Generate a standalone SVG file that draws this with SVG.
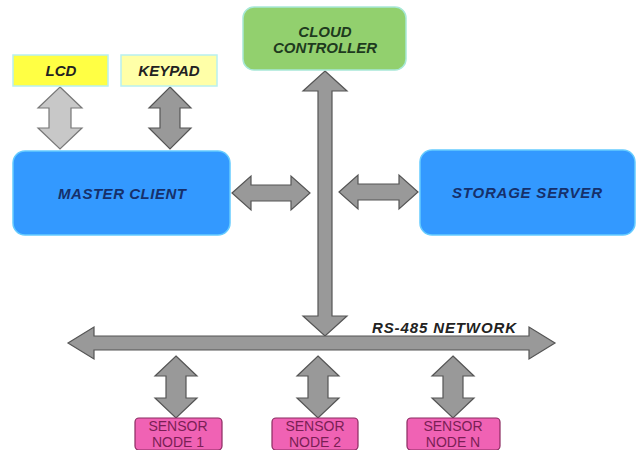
<svg xmlns="http://www.w3.org/2000/svg" width="637" height="450" viewBox="0 0 637 450">
<style>
.lbl{font-family:"Liberation Sans",Arial,sans-serif;font-weight:bold;font-style:italic;font-size:15px;text-anchor:middle}
.sn{font-family:"Liberation Sans",Arial,sans-serif;font-size:14px;fill:#7a1f55;text-anchor:middle}
.arr{fill:#999999;stroke:#555555;stroke-width:1.2;stroke-linejoin:miter}
.arrl{fill:#c8c8c8;stroke:#777777;stroke-width:1.2}
.sensor{fill:#f062b4;stroke:#8a2a60;stroke-width:1.2}
.blue{fill:#3399ff;stroke:#66ccff;stroke-width:1.5}
</style>
<rect width="637" height="450" fill="#ffffff"/>
<g id="connectors">
<path class="arrl" d="M60,87 L82,108 L71,108 L71,128 L82,128 L60,149 L38,128 L49,128 L49,108 L38,108 Z"/>
<path class="arr" d="M170,87 L191,108 L180,108 L180,128 L191,128 L170,149 L149,128 L160,128 L160,108 L149,108 Z"/>
<path class="arr" d="M325,71 L347,91 L332,91 L332,316 L347,316 L325,336 L303,316 L318,316 L318,91 L303,91 Z"/>
<path class="arr" d="M232,193 L251,176 L251,185 L291,185 L291,176 L310,193 L291,210 L291,201 L251,201 L251,210 Z"/>
<path class="arr" d="M339,192 L358,175 L358,184 L399,184 L399,175 L418,192 L399,209 L399,200 L358,200 L358,209 Z"/>
<path class="arr" d="M68,343 L94,327 L94,336 L529,336 L529,327 L555,343 L529,359 L529,350 L94,350 L94,359 Z"/>
<path class="arr" d="M176,356 L197,376 L186,376 L186,398 L197,398 L176,418 L155,398 L166,398 L166,376 L155,376 Z"/>
<path class="arr" d="M318,356 L339,376 L328,376 L328,398 L339,398 L318,418 L297,398 L308,398 L308,376 L297,376 Z"/>
<path class="arr" d="M453,356 L474,376 L463,376 L463,398 L474,398 L453,418 L432,398 L443,398 L443,376 L432,376 Z"/>
<text class="lbl" x="444" y="333" fill="#222222" textLength="144">RS-485 NETWORK</text>
</g>
<g id="lcd">
<rect x="13" y="55" width="95" height="31" fill="#ffff44" stroke="#b8f0f0" stroke-width="1.5"/>
<text class="lbl" x="61" y="76" fill="#222222">LCD</text>
</g>
<g id="keypad">
<rect x="121" y="55" width="96" height="31" fill="#ffffa8" stroke="#b8f0f0" stroke-width="1.5"/>
<text class="lbl" x="169" y="76" fill="#222222">KEYPAD</text>
</g>
<g id="cloud">
<rect x="243" y="7" width="163" height="63" rx="11" fill="#92d06e" stroke="#a8e8d8" stroke-width="1.5"/>
<text class="lbl" x="325" y="37" fill="#1e3a1e">CLOUD</text>
<text class="lbl" x="325" y="53" fill="#1e3a1e">CONTROLLER</text>
</g>
<g id="master">
<rect class="blue" x="13" y="151" width="217" height="84" rx="12"/>
<text class="lbl" x="122" y="199" fill="#16306a" textLength="128">MASTER CLIENT</text>
</g>
<g id="storage">
<rect class="blue" x="420" y="150" width="215" height="85" rx="12"/>
<text class="lbl" x="527" y="198" fill="#16306a" textLength="150">STORAGE SERVER</text>
</g>
<g id="sensor1">
<rect class="sensor" x="135" y="418" width="87" height="32" rx="4"/>
<text class="sn" x="178" y="431">SENSOR</text>
<text class="sn" x="178" y="447">NODE 1</text>
</g>
<g id="sensor2">
<rect class="sensor" x="272" y="418" width="86" height="32" rx="4"/>
<text class="sn" x="315" y="431">SENSOR</text>
<text class="sn" x="315" y="447">NODE 2</text>
</g>
<g id="sensorN">
<rect class="sensor" x="407" y="418" width="93" height="32" rx="4"/>
<text class="sn" x="453" y="431">SENSOR</text>
<text class="sn" x="453" y="447">NODE N</text>
</g>
</svg>
